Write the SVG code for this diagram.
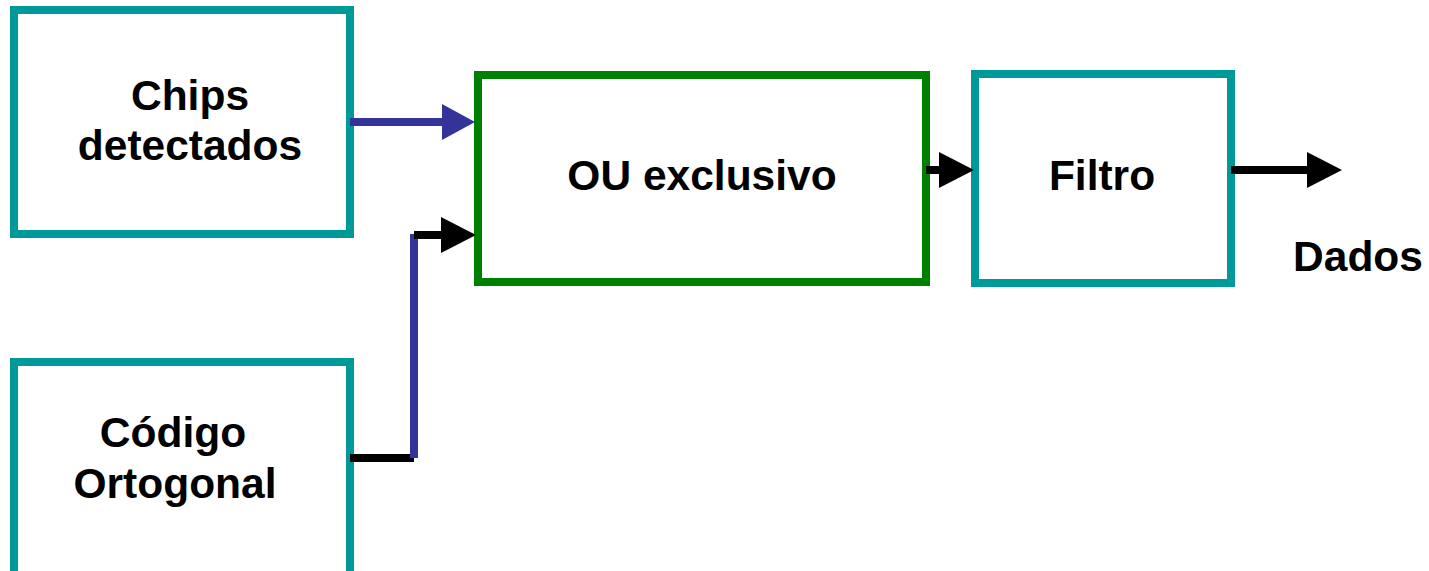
<svg xmlns="http://www.w3.org/2000/svg" width="1429" height="571" viewBox="0 0 1429 571">
  <style>
    .box { fill: #ffffff; stroke-width: 8; }
    .teal { stroke: #009999; }
    .green { stroke: #008000; }
    .label { font-family: "Liberation Sans", Arial, sans-serif; font-weight: bold; font-size: 42.5px; fill: #000000; text-anchor: middle; }
    .wire { fill: none; stroke-width: 8; stroke-linecap: butt; }
    .blue { stroke: #333399; }
    .black { stroke: #000000; }
  </style>
  <defs>
    <marker id="headBlue" markerUnits="userSpaceOnUse" markerWidth="34" markerHeight="36" viewBox="0 0 34 36" refX="0" refY="18" orient="auto">
      <path d="M0,0 L33,18 L0,36 z" fill="#333399"/>
    </marker>
    <marker id="headBlack" markerUnits="userSpaceOnUse" markerWidth="36" markerHeight="36" viewBox="0 0 36 36" refX="0" refY="18" orient="auto">
      <path d="M0,0 L35,18 L0,36 z" fill="#000000"/>
    </marker>
  </defs>

  <g id="chips">
    <rect class="box teal" x="14" y="10" width="336" height="224"/>
    <text class="label" x="190" y="110">Chips</text>
    <text class="label" x="190" y="160">detectados</text>
  </g>

  <g id="codigo">
    <rect class="box teal" x="14" y="362" width="336" height="230"/>
    <text class="label" x="173" y="447">Código</text>
    <text class="label" x="175" y="498">Ortogonal</text>
  </g>

  <g id="xor">
    <rect class="box green" x="478" y="75" width="448" height="207"/>
    <text class="label" x="702" y="190">OU exclusivo</text>
  </g>

  <g id="filtro">
    <rect class="box teal" x="975" y="74" width="256" height="209"/>
    <text class="label" x="1102" y="190">Filtro</text>
  </g>

  <g id="dados">
    <text class="label" x="1358" y="271">Dados</text>
  </g>

  <g id="connectors">
    <line class="wire blue" x1="350" y1="122" x2="442" y2="122" marker-end="url(#headBlue)"/>
    <line class="wire black" x1="350" y1="458" x2="414" y2="458"/>
    <line class="wire blue" x1="414" y1="458" x2="414" y2="234"/>
    <line class="wire black" x1="414" y1="235" x2="441" y2="235" marker-end="url(#headBlack)"/>
    <line class="wire black" x1="926" y1="170" x2="939" y2="170" marker-end="url(#headBlack)"/>
    <line class="wire black" x1="1231" y1="170" x2="1307" y2="170" marker-end="url(#headBlack)"/>
  </g>
</svg>
